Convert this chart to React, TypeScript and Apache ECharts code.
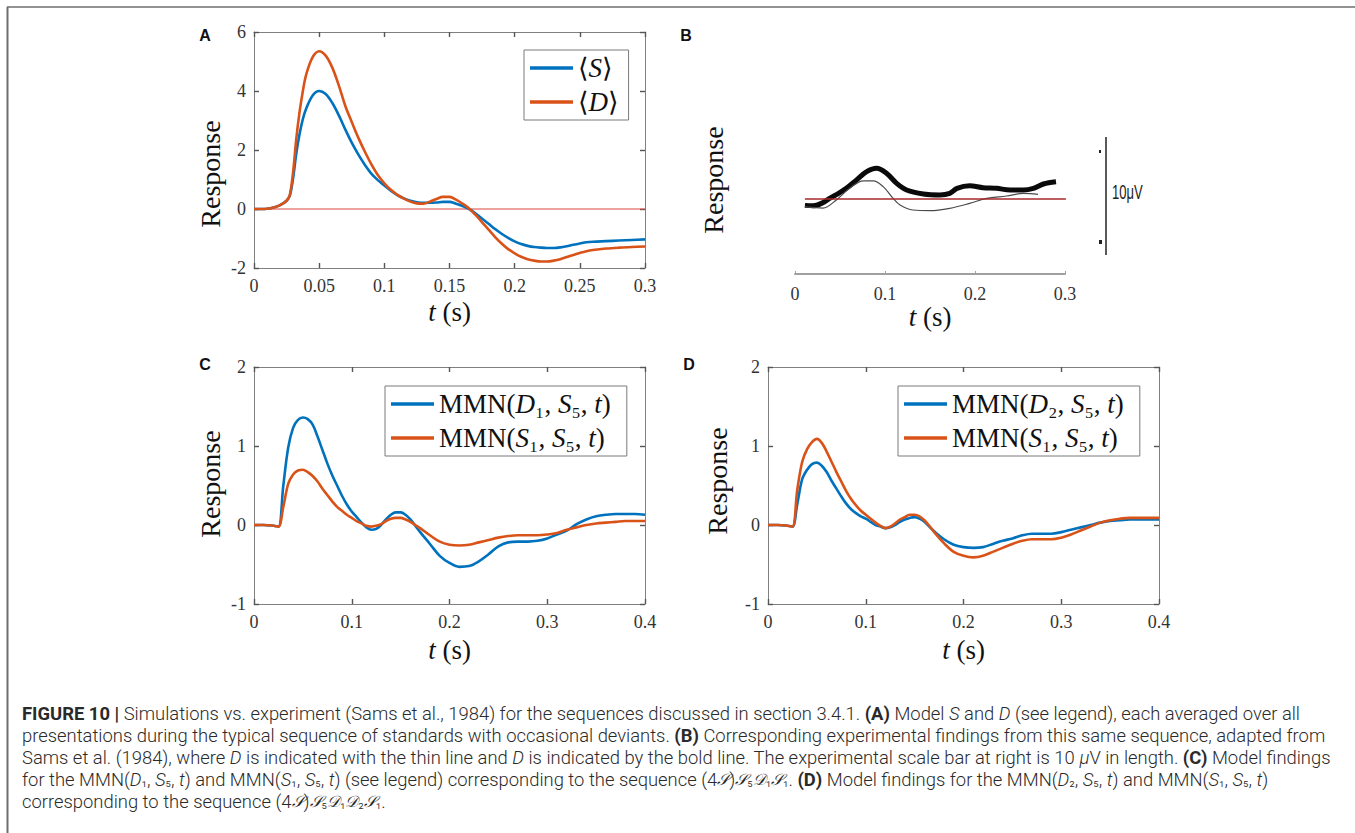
import React, { useEffect, useRef } from "react";
import * as echarts from "echarts";

// ---------- Panel A data ----------
const tA = [0, 0.005, 0.01, 0.015, 0.02, 0.025, 0.0275, 0.03, 0.0325, 0.035, 0.0375, 0.04, 0.045, 0.05, 0.055, 0.06, 0.065, 0.07, 0.075, 0.08, 0.085, 0.09, 0.095, 0.1, 0.105, 0.11, 0.115, 0.12, 0.125, 0.13, 0.135, 0.14, 0.145, 0.15, 0.155, 0.16, 0.165, 0.17, 0.175, 0.18, 0.185, 0.19, 0.195, 0.2, 0.205, 0.21, 0.215, 0.22, 0.225, 0.23, 0.235, 0.24, 0.245, 0.25, 0.255, 0.26, 0.27, 0.28, 0.29, 0.3];
const sA = [0, 0, 0.01, 0.05, 0.13, 0.28, 0.45, 1.05, 1.9, 2.55, 3.05, 3.4, 3.85, 4.0, 3.9, 3.6, 3.18, 2.7, 2.25, 1.85, 1.5, 1.2, 0.98, 0.8, 0.62, 0.47, 0.36, 0.28, 0.23, 0.21, 0.21, 0.22, 0.24, 0.24, 0.18, 0.1, 0.0, -0.15, -0.33, -0.5, -0.68, -0.84, -0.98, -1.1, -1.19, -1.25, -1.29, -1.31, -1.32, -1.32, -1.3, -1.26, -1.21, -1.17, -1.13, -1.11, -1.09, -1.07, -1.05, -1.03];
const dA = [0, 0, 0.01, 0.05, 0.13, 0.28, 0.48, 1.25, 2.4, 3.3, 4.0, 4.55, 5.15, 5.35, 5.2, 4.8, 4.2, 3.5, 2.95, 2.42, 1.95, 1.52, 1.15, 0.87, 0.65, 0.48, 0.35, 0.25, 0.19, 0.18, 0.25, 0.34, 0.41, 0.41, 0.32, 0.18, 0.02, -0.2, -0.45, -0.7, -0.95, -1.17, -1.36, -1.5, -1.62, -1.7, -1.75, -1.78, -1.78, -1.75, -1.7, -1.63, -1.56, -1.49, -1.43, -1.39, -1.34, -1.31, -1.29, -1.27];
const zeroA = [0, 0.3];

// ---------- Panel B data (experiment, arbitrary units, 10 = 10 µV) ----------
const tBbold = [0.011, 0.02, 0.03, 0.039, 0.048, 0.0574, 0.0685, 0.0796, 0.0907, 0.102, 0.113, 0.124, 0.1426, 0.161, 0.172, 0.18, 0.194, 0.209, 0.224, 0.239, 0.2537, 0.2648, 0.276, 0.29];
const vBbold = [-0.7, -0.75, -0.45, 0.1, 0.6, 1.2, 2.1, 3.0, 3.37, 2.8, 1.72, 0.99, 0.55, 0.44, 0.62, 1.17, 1.46, 1.24, 1.17, 0.99, 0.99, 1.17, 1.65, 1.9];
const tBthin = [0.011, 0.031, 0.046, 0.061, 0.076, 0.087, 0.098, 0.109, 0.1167, 0.131, 0.15, 0.172, 0.194, 0.213, 0.235, 0.2537, 0.27];
const vBthin = [-0.84, -1.0, -0.1, 1.2, 2.0, 2.0, 1.36, 0.07, -0.66, -1.21, -1.28, -1.02, -0.48, 0.07, 0.33, 0.62, 0.5];
const zeroB = [0.011, 0.301];

// ---------- Panels C and D data ----------
const tCD = [0, 0.01, 0.02, 0.025, 0.03, 0.035, 0.04, 0.045, 0.05, 0.055, 0.06, 0.065, 0.07, 0.075, 0.08, 0.085, 0.09, 0.095, 0.1, 0.105, 0.11, 0.115, 0.12, 0.125, 0.13, 0.135, 0.14, 0.145, 0.15, 0.155, 0.16, 0.165, 0.17, 0.18, 0.19, 0.2, 0.21, 0.22, 0.23, 0.24, 0.25, 0.26, 0.27, 0.28, 0.29, 0.3, 0.31, 0.32, 0.33, 0.34, 0.35, 0.36, 0.37, 0.38, 0.39, 0.4];
const mmnD1 = [0, 0, -0.01, -0.02, 0.5, 0.98, 1.23, 1.33, 1.36, 1.34, 1.27, 1.12, 0.95, 0.78, 0.63, 0.5, 0.37, 0.26, 0.17, 0.1, 0.03, -0.03, -0.06, -0.05, 0.0, 0.07, 0.13, 0.16, 0.16, 0.13, 0.07, -0.01, -0.09, -0.24, -0.39, -0.48, -0.53, -0.52, -0.46, -0.37, -0.27, -0.22, -0.21, -0.21, -0.2, -0.17, -0.12, -0.07, 0.01, 0.07, 0.11, 0.13, 0.14, 0.14, 0.14, 0.13];
const mmnS1C = [0, 0, -0.01, -0.02, 0.23, 0.52, 0.64, 0.69, 0.7, 0.67, 0.62, 0.55, 0.46, 0.38, 0.3, 0.23, 0.18, 0.13, 0.09, 0.05, 0.02, -0.01, -0.02, -0.01, 0.01, 0.05, 0.08, 0.09, 0.09, 0.07, 0.04, 0.0, -0.04, -0.13, -0.21, -0.25, -0.26, -0.25, -0.22, -0.19, -0.16, -0.14, -0.13, -0.13, -0.13, -0.12, -0.1, -0.06, -0.03, 0.0, 0.02, 0.03, 0.04, 0.05, 0.05, 0.05];
const mmnD2 = [0, 0, -0.01, -0.02, 0.27, 0.58, 0.7, 0.77, 0.79, 0.75, 0.67, 0.56, 0.46, 0.36, 0.27, 0.2, 0.15, 0.11, 0.08, 0.04, 0.0, -0.02, -0.04, -0.03, 0.0, 0.04, 0.07, 0.09, 0.1, 0.08, 0.04, -0.02, -0.08, -0.18, -0.25, -0.28, -0.29, -0.28, -0.24, -0.2, -0.17, -0.13, -0.11, -0.11, -0.11, -0.09, -0.06, -0.03, 0.0, 0.03, 0.05, 0.06, 0.07, 0.07, 0.07, 0.07];
const mmnS1D = [0, 0, -0.01, -0.02, 0.45, 0.8, 0.96, 1.05, 1.09, 1.04, 0.93, 0.8, 0.67, 0.55, 0.43, 0.33, 0.25, 0.18, 0.13, 0.08, 0.03, -0.01, -0.04, -0.02, 0.02, 0.07, 0.1, 0.13, 0.13, 0.11, 0.06, -0.01, -0.09, -0.23, -0.34, -0.39, -0.41, -0.39, -0.34, -0.29, -0.24, -0.2, -0.18, -0.18, -0.18, -0.16, -0.12, -0.07, -0.02, 0.03, 0.06, 0.08, 0.09, 0.09, 0.09, 0.09];

// ---------- Axis ticks ----------
const yTicksA = [-2, 6, 2];
const xTicksA = [0, 0.3, 0.05];
const xTicksB = [0, 0.3, 0.1];
const yTicksCD = [-1, 2, 1];
const xTicksCD = [0, 0.4, 0.1];

// ---------- Names ----------
const nameS = "⟨S⟩";
const nameD = "⟨D⟩";
const nameD1 = "MMN(D₁, S₅, t)";
const nameS1C = "MMN(S₁, S₅, t)";
const nameD2 = "MMN(D₂, S₅, t)";
const nameS1D = "MMN(S₁, S₅, t)\u200b";

const BLUE = "#0072BD";
const ORANGE = "#D95319";
const BOX = "#808080";
const SERIF = "'Liberation Serif', 'DejaVu Serif', 'DejaVu Sans', serif";
const SANS = "Roboto, 'Liberation Sans', 'DejaVu Sans', sans-serif";

const zip = (t: number[], v: number[]) => t.map((x, i) => [x, v[i]]);

const richLegend: Record<string, string> = {
  [nameS]: "{r|⟨}{i|S}{r|⟩}",
  [nameD]: "{r|⟨}{i|D}{r|⟩}",
  [nameD1]: "{r|MMN(}{i|D}{r|₁, }{i|S}{r|₅, }{i|t}{r|)}",
  [nameS1C]: "{r|MMN(}{i|S}{r|₁, }{i|S}{r|₅, }{i|t}{r|)}",
  [nameD2]: "{r|MMN(}{i|D}{r|₂, }{i|S}{r|₅, }{i|t}{r|)}",
  [nameS1D]: "{r|MMN(}{i|S}{r|₁, }{i|S}{r|₅, }{i|t}{r|)}",
};

const fmt = (v: number) => String(Math.round(v * 100) / 100);
const TICK_FS = 18;

const boxLine = { show: true, onZero: false, lineStyle: { color: BOX, width: 1 } };
const boxTick = { show: true, inside: true, length: 5, lineStyle: { color: "#555", width: 1.4 } };

function xAxisPair(grid: number, ticks: number[], gap: number) {
  const base = {
    gridIndex: grid,
    type: "value",
    min: ticks[0],
    max: ticks[1],
    interval: ticks[2],
    splitLine: { show: false },
    axisLine: boxLine,
    axisTick: boxTick,
  };
  return [
    {
      ...base,
      position: "bottom",
      axisLabel: { show: true, fontFamily: SERIF, fontSize: TICK_FS, color: "#333", margin: 9, formatter: fmt },
      name: "{i|t} (s)",
      nameLocation: "middle",
      nameGap: gap,
      nameTextStyle: { fontFamily: SERIF, fontSize: 27, color: "#111", rich: { i: { fontFamily: SERIF, fontSize: 27, fontStyle: "italic", color: "#111" } } },
    },
    { ...base, position: "top", axisLabel: { show: false } },
  ];
}

function yAxisPair(grid: number, ticks: number[]) {
  const base = {
    gridIndex: grid,
    type: "value",
    min: ticks[0],
    max: ticks[1],
    interval: ticks[2],
    splitLine: { show: false },
    axisLine: boxLine,
    axisTick: boxTick,
  };
  return [
    { ...base, position: "left", axisLabel: { show: true, fontFamily: SERIF, fontSize: TICK_FS, color: "#333", margin: 8, formatter: fmt } },
    { ...base, position: "right", axisLabel: { show: false } },
  ];
}

function legendBox(data: string[], left: number, top: number, padRight: number) {
  return {
    data,
    left,
    top,
    orient: "vertical",
    icon: "rect",
    backgroundColor: "#fff",
    borderColor: "#7a7a7a",
    borderWidth: 1,
    borderRadius: 0,
    padding: [3, padRight, 3, 6],
    itemGap: 4,
    itemWidth: 43,
    itemHeight: 3.5,
    selectedMode: false,
    z: 10,
    formatter: (n: string) => richLegend[n] || n,
    textStyle: {
      fontFamily: SERIF,
      fontSize: 27,
      color: "#111",
      lineHeight: 30,
      rich: {
        r: { fontFamily: SERIF, fontSize: 27, color: "#111", lineHeight: 30 },
        i: { fontFamily: SERIF, fontSize: 27, fontStyle: "italic", color: "#111", lineHeight: 30 },
      },
    },
  };
}

function lineSeries(name: string, x: number, y: number, t: number[], v: number[], color: string, width: number, z = 3) {
  return {
    type: "line",
    name,
    xAxisIndex: x,
    yAxisIndex: y,
    data: zip(t, v),
    showSymbol: false,
    symbol: "none",
    smooth: 0.35,
    lineStyle: { color, width },
    itemStyle: { color },
    z,
  };
}

const CAPTION: string[] = [
  "{b|FIGURE 10 | }{n|Simulations vs. experiment }{g|(Sams et al., 1984)}{n| for the sequences discussed in section 3.4.1. }{b|(A)}{n| Model }{i|S}{n| and }{i|D}{n| (see legend), each averaged over all}",
  "{n|presentations during the typical sequence of standards with occasional deviants. }{b|(B)}{n| Corresponding experimental findings from this same sequence, adapted from}",
  "{g|Sams et al. (1984)}{n|, where }{i|D}{n| is indicated with the thin line and }{i|D}{n| is indicated by the bold line. The experimental scale bar at right is 10 }{i|μ}{n|V in length. }{b|(C)}{n| Model findings}",
  "{n|for the MMN(}{i|D}{s|₁}{n|, }{i|S}{s|₅}{n|, }{i|t}{n|) and MMN(}{i|S}{s|₁}{n|, }{i|S}{s|₅}{n|, }{i|t}{n|) (see legend) corresponding to the sequence (4}{m|𝒮}{n|)}{m|𝒮}{s|₅}{m|𝒟}{s|₁}{m|𝒮}{s|₁}{n|. }{b|(D)}{n| Model findings for the MMN(}{i|D}{s|₂}{n|, }{i|S}{s|₅}{n|, }{i|t}{n|) and MMN(}{i|S}{s|₁}{n|, }{i|S}{s|₅}{n|, }{i|t}{n|)}",
  "{n|corresponding to the sequence (4}{m|𝒮}{n|)}{m|𝒮}{s|₅}{m|𝒟}{s|₁}{m|𝒟}{s|₂}{m|𝒮}{s|₁}{n|.}",
];
const CAPTION_Y = [713, 735, 757, 779, 801];

export default function App() {
  const ref = useRef<HTMLDivElement>(null);
  useEffect(() => {
    if (!ref.current) return;
    const chart = echarts.init(ref.current, null, { renderer: "svg" });
    const capFont = { fontFamily: SANS, fontSize: 18.4, fontWeight: 300, color: "#2a2a2a" };
    const capRich = {
      n: { ...capFont },
      b: { ...capFont, fontWeight: 700, color: "#1a1a1a" },
      g: { ...capFont, color: "#8a8f96" },
      i: { ...capFont, fontStyle: "italic" },
      s: { ...capFont, fontSize: 15 },
      m: { ...capFont, fontFamily: "'DejaVu Sans', 'DejaVu Serif', serif", fontStyle: "italic", fontSize: 16 },
    };
    const xB = {
      gridIndex: 1,
      type: "value",
      min: xTicksB[0],
      max: xTicksB[1],
      interval: xTicksB[2],
      position: "bottom",
      splitLine: { show: false },
      axisLine: { show: true, onZero: false, lineStyle: { color: "#a0a0a0", width: 2 } },
      axisTick: { show: true, inside: true, length: 3, lineStyle: { color: "#a0a0a0" } },
      axisLabel: { show: true, fontFamily: SERIF, fontSize: TICK_FS, color: "#333", margin: 11, formatter: fmt },
      name: "{i|t} (s)",
      nameLocation: "middle",
      nameGap: 22,
      nameTextStyle: { fontFamily: SERIF, fontSize: 27, color: "#111", rich: { i: { fontFamily: SERIF, fontSize: 27, fontStyle: "italic", color: "#111" } } },
    };
    const option = {
      animation: false,
      backgroundColor: "#fff",
      grid: [
        { left: 254, top: 32, width: 391, height: 236 },
        { left: 795, top: 108, width: 270, height: 166 },
        { left: 254, top: 367, width: 391, height: 237 },
        { left: 768, top: 367, width: 391, height: 237 },
      ],
      xAxis: [...xAxisPair(0, xTicksA, 30), xB, ...xAxisPair(2, xTicksCD, 32), ...xAxisPair(3, xTicksCD, 32)],
      yAxis: [
        ...yAxisPair(0, yTicksA),
        { gridIndex: 1, type: "value", min: -8.24, max: 10, show: false },
        ...yAxisPair(2, yTicksCD),
        ...yAxisPair(3, yTicksCD),
      ],
      legend: [
        legendBox([nameS, nameD], 524, 50, 10),
        legendBox([nameD1, nameS1C], 385, 386, 16),
        legendBox([nameD2, nameS1D], 898, 386, 16),
      ],
      series: [
        { type: "line", name: "zeroA", xAxisIndex: 0, yAxisIndex: 0, data: zeroA.map((x) => [x, 0]), showSymbol: false, symbol: "none", lineStyle: { color: "#d9453a", width: 1 }, z: 2, silent: true },
        lineSeries(nameS, 0, 0, tA, sA, BLUE, 2.6),
        lineSeries(nameD, 0, 0, tA, dA, ORANGE, 2.6, 4),
        lineSeries("boldB", 2, 2, tBbold, vBbold, "#0a0a0a", 5),
        { type: "line", name: "zeroB", xAxisIndex: 2, yAxisIndex: 2, data: zeroB.map((x) => [x, 0]), showSymbol: false, symbol: "none", lineStyle: { color: "#a82a2a", width: 1.5 }, z: 5, silent: true },
        lineSeries("thinB", 2, 2, tBthin, vBthin, "#4a4a4a", 1.2, 4),
        lineSeries(nameD1, 3, 3, tCD, mmnD1, BLUE, 2.6),
        lineSeries(nameS1C, 3, 3, tCD, mmnS1C, ORANGE, 2.6, 4),
        lineSeries(nameD2, 5, 5, tCD, mmnD2, BLUE, 2.6),
        lineSeries(nameS1D, 5, 5, tCD, mmnS1D, ORANGE, 2.6, 4),
      ],
      graphic: [
        { type: "line", shape: { x1: 7, y1: 7, x2: 1355, y2: 7 }, style: { stroke: "#6e6e6e", lineWidth: 1.5 }, silent: true },
        { type: "line", shape: { x1: 7.5, y1: 7, x2: 7.5, y2: 833 }, style: { stroke: "#6e6e6e", lineWidth: 2 }, silent: true },
        ...[["A", 205, 35], ["B", 686, 35], ["C", 205, 364], ["D", 689, 364]].map(([l, x, y]) => ({
          type: "text", x, y, silent: true,
          style: { text: l, fontFamily: "'Liberation Sans', Arial, sans-serif", fontWeight: 700, fontSize: 16, fill: "#111", align: "center", verticalAlign: "middle" },
        })),
        ...[[210, 174], [713, 180], [210, 484], [717, 481]].map(([x, y]) => ({
          type: "text", x, y, rotation: Math.PI / 2, silent: true,
          style: { text: "Response", fontFamily: SERIF, fontSize: 28, fill: "#111", align: "center", verticalAlign: "middle" },
        })),
        { type: "line", shape: { x1: 1106, y1: 137, x2: 1106, y2: 255 }, style: { stroke: "#222", lineWidth: 1.5 }, silent: true },
        { type: "rect", shape: { x: 1099, y: 150, width: 2, height: 3 }, style: { fill: "#222" }, silent: true },
        { type: "rect", shape: { x: 1099, y: 240, width: 3, height: 4 }, style: { fill: "#222" }, silent: true },
        { type: "text", x: 1112, y: 192, scaleX: 0.62, silent: true, style: { text: "10μV", fontFamily: "'Liberation Sans', Arial, sans-serif", fontSize: 21, fill: "#222", align: "left", verticalAlign: "middle" } },
        ...CAPTION.map((txt, i) => ({
          type: "text", x: 22, y: CAPTION_Y[i], silent: true,
          style: { text: txt, rich: capRich, ...capFont, fill: "#2a2a2a", align: "left", verticalAlign: "middle" },
        })),
      ],
    };
    chart.setOption(option as any);
    return () => chart.dispose();
  }, []);
  return <div ref={ref} style={{ position: "fixed", left: 0, top: 0, width: 1355, height: 833 }} />;
}
